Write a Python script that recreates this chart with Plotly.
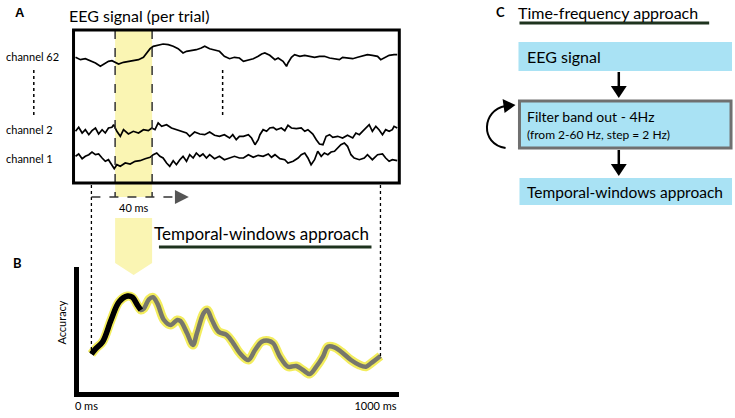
####################################################################################################################
# plot.py
#
# schematic of the decoding pipeline: EEG signal (A), sliding-window accuracy (B), time-frequency flow chart (C)

####################################################################################################################
# IMPORTS
import plotly.graph_objects as go

####################################################################################################################
# DATA

# panel A - three example channels of one trial (time in ms, amplitude in a.u.)
ch62_t = [-55, -38, -21, -3, 14, 31, 42, 59, 71, 82, 94, 111, 128, 145, 163, 180, 191, 203, 214, 231, 248,
          266, 283, 300, 317, 329, 346, 363, 380, 392, 409, 426, 443, 460, 478, 495, 512,
          526, 543, 560, 577, 589, 600, 617, 635, 646, 663, 675, 680, 692, 703, 721, 738, 755, 772, 789,
          806, 824, 841, 858, 869, 886, 904, 921, 938, 955, 972, 990, 1001, 1013, 1030, 1047, 1058]
ch62_amp = [0.7, -1.7, -0.7, -3.3, -5, -8.3, -6, -3.3, -2.7, -4, -6, -4.3, -3.3, -2.3, -1.7, 0.7, 5, 9.3,
            11.7, 12.7, 14, 13.3, 11.7, 9.3, 5, 6.7, 7.3, 8.3, 10, 11.7, 9.3, 8.3, 6.7, 1.7, -0.7, 0.7, 0,
            -3.3, -1.7, -0.7, 1.7, 4, 5, 2.7, -1.7, 0, -3.3, -8.3, -5, 0.7, 3.3, 1.7, 2.7, 1.7, 0.7, 1.7,
            1.7, 0, -0.7, -1.7, 0.7, 0, -0.7, 0.7, 1.7, 3.3, 2.7, 1.7, -1.7, 0, 2.7, 3.3, 3.3]

ch2_t = [-55, -44, -32, -21, -9, 2, 14, 25, 37, 48, 59, 71, 77, 88, 100, 111, 128, 145, 163, 180, 197,
         209, 220, 231, 243, 260, 277, 294, 312, 329, 340, 357, 375, 392, 409, 426, 443, 460, 478, 489,
         501, 512,
         526, 543, 554, 566, 577, 583, 594, 606, 617, 629, 640, 657, 669, 680, 692, 709, 726, 738, 749,
         766, 778, 789, 801, 812, 824, 835, 852, 869, 886, 904, 915, 927, 938, 950, 961, 972, 984, 995,
         1007, 1018, 1030, 1041, 1047, 1058]
ch2_amp = [-1.3, 2.7, -3, 0.3, -4.7, -0.7, 2, -4, 0.3, -3, 2, 2.7, 5.3, -1.3, -6.3, 0.3, -4, -1.3, -3,
           0.3, -0.7, 2, 0.3, 7, 3.7, 5.3, 2, 0.3, -1.3, -3, -6.3, -2, -4, -4.7, -2, -5.3, -6.3, -4.7,
           -8, -4.7, -9.7, -6.3,
           -6.3, -4.7, -8, -14.7, -9.7, -4.7, 0.3, -1.3, 2, 2.7, 0.3, 2, -0.7, 4.7, 2, 1.3, 2, -1.3,
           0.3, -4, -9.7, -14, -14.7, -6.3, -4.7, -7.3, -6.3, -8, -5.3, -8, -3, -4.7, -1.3, 2, 5.3,
           -1.3, 3.7, 0.3, -4.7, 0.3, -1.3, 0.3, 3.7, 2]

ch1_t = [-55, -44, -32, -21, -9, 2, 14, 25, 37, 48, 59, 71, 79, 88, 100, 117, 134, 151, 168, 186, 203,
         214, 226, 237, 248, 260, 271, 283, 294, 306, 317, 329, 340, 352, 363, 375, 386, 398, 409, 426,
         443, 460, 478, 495, 512,
         526, 543, 560, 577, 594, 612, 623, 635, 652, 669, 680, 698, 715, 726, 738, 749, 760, 772, 783,
         795, 806, 818, 829, 841, 852, 863, 875, 886, 898, 909, 927, 944, 955, 972, 990, 1007, 1018,
         1030, 1041, 1058]
ch1_amp = [0.7, 3, -1.7, 0.7, 2.3, 5, 2.3, 3, -1, -4.3, -2.7, -7.7, -11.7, -7.7, -9.3, -6, -7, -4.3,
           -3.7, -1.7, -0.3, 2.3, 4, 0.7, -1, -6, -9.3, -3.7, -7.7, -2.7, 0.7, -4.3, 2.3, -1, 4, 0.7, 3,
           -1, 2.3, -1.7, 0.7, -2.7, -1, 0.7, -1,
           -1, 2.3, -0.3, 1.7, 0.7, 3, -0.3, 2.3, -1.7, -2.7, -6, -4.3, -1, 2.3, 4, -1, -7.7, -2.7, 5.7,
           0.7, 4, 2.3, 5, 5.7, 9, 12.3, 14, 10.7, 2.3, -1, -2.7, -1, 2.3, -2.7, 2.3, 3, -1, -4.3, -2.7,
           -3.7]

channel_names = ['channel 62', 'channel 2', 'channel 1']

# the first temporal window (labelled "40 ms" in the drawing)
window_ms = [82, 210]
trial_ms = [0, 1000]

# panel B - decoding accuracy (a.u.) along the trial
acc_t = [0, 16, 39, 68, 96, 125, 142, 159, 171, 182, 199, 213, 228, 251, 274, 297, 308, 331, 351, 365,
         388, 400, 417, 440, 468, 491, 514, 543, 566, 589, 612, 629, 652, 680, 709, 732, 755, 778, 801,
         818, 841, 864, 898, 927, 950, 967, 1000]
acc = [42, 47.7, 54.3, 76, 94.3, 100, 98.7, 91, 86, 87.7, 96.7, 98.7, 92.7, 76, 71, 76, 75, 62.7, 51,
       62.7, 82.7, 86, 76, 64.3, 61, 52.7, 42.7, 36, 46, 54.3, 55.3, 52.7, 39.3, 29.3, 30, 26, 22, 29.3,
       39.3, 49.3, 48.7, 44.3, 36, 31, 29.3, 32.7, 40]
n_first = 9  # samples already covered when the window has slid once (black part)

# panel C - flow chart
flow_steps = ['EEG signal', 'Filter band out - 4Hz', 'Temporal-windows approach']
flow_note = '(from 2-60 Hz, step = 2 Hz)'

####################################################################################################################
# LAYOUT HELPERS

W, H = 735, 418
FONT = 'Lato, Open Sans, sans-serif'
YELLOW = '#faf5b3'
BLUE = '#a9e2f4'


def px(x):
    return x / W


def py(y):
    return 1 - y / H


def text(s, x, y, size, anchor='left', **kw):
    return dict(text=s, x=px(x), y=py(y), xref='paper', yref='paper', xanchor=anchor, yanchor='middle',
                showarrow=False, font=dict(family=FONT, size=size, color='black'), **kw)


def pline(x0, y0, x1, y1, **kw):
    return dict(type='line', xref='paper', yref='paper', x0=px(x0), y0=py(y0), x1=px(x1), y1=py(y1), **kw)


def ppath(points, **kw):
    d = 'M ' + ' L '.join(f'{px(a):.5f},{py(b):.5f}' for a, b in points) + ' Z'
    return dict(type='path', xref='paper', yref='paper', path=d, **kw)


####################################################################################################################
# FIGURE
fig = go.Figure()

# panel A traces
baseline = {'channel 62': 125, 'channel 2': 53, 'channel 1': 26}
for name, t, a in [('channel 62', ch62_t, ch62_amp), ('channel 2', ch2_t, ch2_amp), ('channel 1', ch1_t, ch1_amp)]:
    fig.add_trace(go.Scatter(x=t, y=[baseline[name] + v for v in a], mode='lines', name=name,
                             line=dict(color='black', width=1.7), xaxis='x', yaxis='y'))

# panel B traces: yellow halo, grey curve, black first part
fig.add_trace(go.Scatter(x=acc_t, y=acc, mode='lines', line=dict(color='#f3ed5c', width=9, shape='spline'),
                         xaxis='x2', yaxis='y2'))
fig.add_trace(go.Scatter(x=acc_t, y=acc, mode='lines', line=dict(color='#77776c', width=4.5, shape='spline'),
                         xaxis='x2', yaxis='y2'))
fig.add_trace(go.Scatter(x=acc_t[:n_first], y=acc[:n_first], mode='lines',
                         line=dict(color='black', width=5.5, shape='spline'), xaxis='x2', yaxis='y2'))

ms_per_px = 3.436
hidden = dict(showgrid=False, zeroline=False, showticklabels=False, ticks='', showline=False)
fig.update_layout(
    width=W, height=418, margin=dict(l=0, r=0, t=0, b=0), showlegend=False,
    paper_bgcolor='white', plot_bgcolor='rgba(0,0,0,0)',
    xaxis=dict(domain=[px(69), px(397)], range=[(69 - 87) * ms_per_px, (397 - 87) * ms_per_px], **hidden),
    yaxis=dict(domain=[py(183), py(30)], range=[0, 153], **hidden),
    xaxis2=dict(domain=[px(75), px(397)], range=[(75 - 87) * ms_per_px, (397 - 87) * ms_per_px],
                anchor='y2', showgrid=False, zeroline=False, showline=True, linewidth=5, linecolor='black',
                ticks='', tickvals=trial_ms, ticktext=[f'{v} ms' for v in trial_ms], ticklabelshift=-5,
                tickfont=dict(family=FONT, size=11, color='black')),
    yaxis2=dict(domain=[py(392), py(267)], range=[4, 129], anchor='x2', showgrid=False, zeroline=False,
                showline=True, linewidth=5, linecolor='black', showticklabels=False, ticks=''),
)

shapes = []
# window highlight + dashed borders
shapes.append(dict(type='rect', xref='x', yref='paper', x0=window_ms[0], x1=window_ms[1], y0=py(197), y1=py(30),
                   fillcolor=YELLOW, line_width=0, layer='below'))
for w in window_ms:
    shapes.append(dict(type='line', xref='x', yref='paper', x0=w, x1=w, y0=py(30), y1=py(197),
                       line=dict(color='#333333', width=1.5, dash='dash')))
# EEG frame
shapes.append(dict(type='rect', xref='x domain', yref='y domain', x0=0, x1=1, y0=0, y1=1,
                   line=dict(color='black', width=3)))
# dotted "more channels" marks
shapes.append(pline(29, 70, 29, 115, line=dict(color='black', width=1.5, dash='dot')))
shapes.append(dict(type='line', xref='x', yref='paper', x0=454, x1=454, y0=py(70), y1=py(115),
                   line=dict(color='black', width=1.5, dash='dot')))
# trial start / end down to panel B
for t_ms, y_end in zip(trial_ms, [354, 356]):
    shapes.append(dict(type='line', xref='x', yref='paper', x0=t_ms, x1=t_ms, y0=py(185), y1=py(y_end),
                       line=dict(color='black', width=1.3, dash='dot')))
# sliding arrow
shapes.append(dict(type='line', xref='x', yref='paper', x0=0, x1=289, y0=py(197), y1=py(197),
                   line=dict(color='#333333', width=1.5, dash='dash')))
shapes.append(dict(type='path', xref='x', yref='paper',
                   path=f'M 289,{py(190)} L 337,{py(197)} L 289,{py(204)} Z', fillcolor='#555555', line_width=0))
# window -> accuracy pointer
mid = (window_ms[0] + window_ms[1]) / 2
shapes.append(dict(type='path', xref='x', yref='paper',
                   path=(f'M {window_ms[0]},{py(218)} L {window_ms[1]},{py(218)} L {window_ms[1]},{py(263)} '
                         f'L {mid},{py(275)} L {window_ms[0]},{py(263)} Z'),
                   fillcolor=YELLOW, line_width=0))
# underlines of section titles
shapes.append(pline(155, 247, 369, 247, line=dict(color='#1e331e', width=3)))
shapes.append(pline(518, 23, 709, 23, line=dict(color='#1e331e', width=3)))
# flow chart boxes
shapes.append(dict(type='rect', xref='paper', yref='paper', x0=px(517), x1=px(732), y0=py(71), y1=py(42),
                   fillcolor=BLUE, line_width=0))
shapes.append(dict(type='rect', xref='paper', yref='paper', x0=px(518), x1=px(731), y0=py(148), y1=py(101),
                   fillcolor=BLUE, line=dict(color='#707070', width=3)))
shapes.append(dict(type='rect', xref='paper', yref='paper', x0=px(518), x1=px(732), y0=py(205), y1=py(178),
                   fillcolor=BLUE, line_width=0))
# flow chart arrows
for y0, y1 in [(72, 88), (150, 166)]:
    shapes.append(pline(618, y0, 618, y1, line=dict(color='black', width=2.5)))
    shapes.append(ppath([(610, y1 - 2), (626, y1 - 2), (618, y1 + 10)], fillcolor='black', line_width=0))
# loop arrow
loop = (f'M {px(504)},{py(148)} C {px(478)},{py(144)} {px(480)},{py(110)} {px(504)},{py(106)}')
shapes.append(dict(type='path', xref='paper', yref='paper', path=loop, line=dict(color='black', width=2)))
shapes.append(ppath([(501, 99), (514, 105), (503, 113)], fillcolor='black', line_width=0))

fig.update_layout(shapes=shapes)

ann = [
    text('<b>A</b>', 8, 13, 13, font_family='Liberation Sans'),
    text('EEG signal (per trial)', 62, 15, 16),
    text('40 ms', 130, 208, 11, anchor='center'),
    text('Temporal-windows approach', 148, 233, 17),
    text('<b>B</b>', 6, 263, 13),
    text('Accuracy', 56, 323, 11, anchor='center', textangle=-90),
    text('<b>C</b>', 492, 12, 13),
    text('Time-frequency approach', 514, 12, 16),
    text(flow_steps[0], 524, 57, 16),
    text(flow_steps[1], 524, 116, 14),
    text(flow_note, 524, 134, 12),
    text(flow_steps[2], 524, 192, 15.5),
]
for name, y in zip(channel_names, [57, 130, 158]):
    ann.append(text(name, -1, y, 11))
fig.update_layout(annotations=ann)

# the page body has a default 8px margin; drop it so the figure fills the window
fig.write_html('out.html', config={'displayModeBar': False},
               post_script="document.body.style.margin='0px';")
